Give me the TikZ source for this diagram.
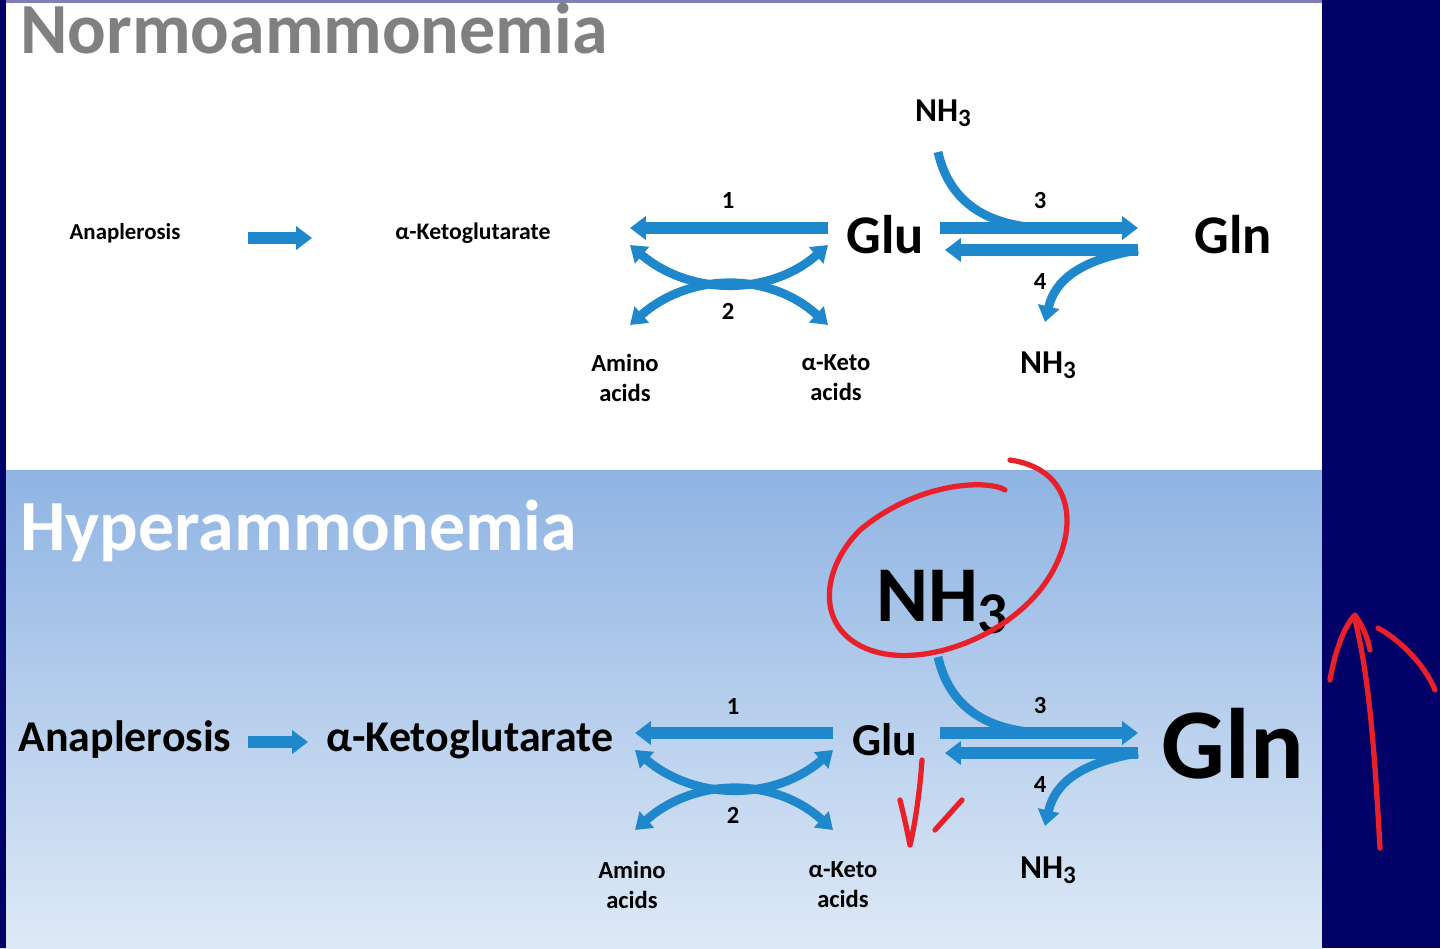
\documentclass[tikz,border=0pt]{standalone}
\usepackage{fontspec}
\setmainfont{Carlito}
\usetikzlibrary{arrows.meta}
\definecolor{arr}{HTML}{1F88CC}
\definecolor{navy}{HTML}{000066}
\definecolor{anred}{HTML}{E8202A}
\newcommand{\nhthree}{NH\raisebox{-0.3ex}{\scalebox{0.75}{3}}}
\begin{document}
\begin{tikzpicture}[x=0.02cm,y=-0.02cm,
  ar/.style={arr,line width=6.5pt,-{Triangle[length=9pt,width=13pt]}},
  cv/.style={arr,line width=5pt,-{Triangle[length=9pt,width=12pt]}},
  dv/.style={arr,line width=5pt,{Triangle[length=9pt,width=12pt]}-{Triangle[length=9pt,width=12pt]}},
  ln/.style={arr,line width=5pt},
  t/.style={font=\bfseries,inner sep=0pt,align=center},
  rd/.style={anred,line width=3pt,line cap=round,line join=round}]
\useasboundingbox (0,0) rectangle (1440,948);
\fill[white] (0,0) rectangle (1322,470);
\shade[top color={rgb,255:red,143;green,180;blue,227},bottom color={rgb,255:red,222;green,233;blue,246}] (0,470) rectangle (1322,948);
\fill[navy] (1322,0) rectangle (1440,948);
\fill[navy] (0,0) rectangle (6,948);
\fill[navy!50] (6,0) rectangle (1322,3);
\node[t,anchor=west,text=gray,font=\bfseries\fontsize{41}{44}\selectfont] (normo) at (20,28) {Normoammonemia};
\node[t,anchor=west,text=white,font=\bfseries\fontsize{41}{44}\selectfont] (hyper) at (20,531) {Hyperammonemia};
% top
\node[t,font=\bfseries\fontsize{13}{15}\selectfont] (ana1) at (125,233) {Anaplerosis};
\node[t,font=\bfseries\fontsize{13.5}{15}\selectfont] (akg1) at (473,233) {α-Ketoglutarate};
\draw[ar] (248,238) -- (312,238);
\node[t,font=\bfseries\fontsize{31}{34}\selectfont] (glu1) at (885,235) {Glu};
\node[t,font=\bfseries\fontsize{31}{34}\selectfont] (gln1) at (1233,235) {Gln};
\node[t,font=\bfseries\fontsize{19}{22}\selectfont] (nhA1) at (943,113) {\nhthree};
\node[t,font=\bfseries\fontsize{19}{22}\selectfont] (nhB1) at (1048,365) {\nhthree};
\node[t,font=\bfseries\fontsize{14}{17}\selectfont] (am1) at (625,378) {Amino\\acids};
\node[t,font=\bfseries\fontsize{14}{17}\selectfont] (ak1) at (836,378) {α-Keto\\acids};
\node[t,font=\bfseries\fontsize{14}{16}\selectfont] at (728,201) {1};
\node[t,font=\bfseries\fontsize{14}{16}\selectfont] at (728,311) {2};
\node[t,font=\bfseries\fontsize{14}{16}\selectfont] at (1040,201) {3};
\node[t,font=\bfseries\fontsize{14}{16}\selectfont] at (1040,282) {4};
\draw[ar] (828,228) -- (630,228);
\draw[dv] (630,245) .. controls (690,296) and (770,296) .. (828,245);
\draw[dv] (630,325) .. controls (690,272) and (770,272) .. (828,325);
\draw[ar] (940,228) -- (1138,228);
\draw[ln] (938,152) .. controls (950,205) and (990,225) .. (1040,228);
\draw[ar] (1138,250) -- (945,250);
\draw[cv] (1138,250) .. controls (1080,260) and (1055,280) .. (1045,322);
% bottom
\node[t,font=\bfseries\fontsize{25}{28}\selectfont] (ana2) at (125,740) {Anaplerosis};
\node[t,font=\bfseries\fontsize{25}{28}\selectfont] (akg2) at (470,740) {α-Ketoglutarate};
\draw[ar] (248,742) -- (308,742);
\node[t,font=\bfseries\fontsize{26}{28}\selectfont] (glu2) at (885,740) {Glu};
\node[t,font=\bfseries\fontsize{57}{60}\selectfont] (gln2) at (1233,744) {Gln};
\node[t,font=\bfseries\fontsize{45}{50}\selectfont] (nhA2) at (942,602) {\nhthree};
\node[t,font=\bfseries\fontsize{19}{22}\selectfont] (nhB2) at (1048,870) {\nhthree};
\node[t,font=\bfseries\fontsize{14}{17}\selectfont] (am2) at (632,885) {Amino\\acids};
\node[t,font=\bfseries\fontsize{14}{17}\selectfont] (ak2) at (843,885) {α-Keto\\acids};
\node[t,font=\bfseries\fontsize{14}{16}\selectfont] at (733,706) {1};
\node[t,font=\bfseries\fontsize{14}{16}\selectfont] at (733,815) {2};
\node[t,font=\bfseries\fontsize{14}{16}\selectfont] at (1040,706) {3};
\node[t,font=\bfseries\fontsize{14}{16}\selectfont] at (1040,785) {4};
\draw[ar] (833,733) -- (635,733);
\draw[dv] (635,750) .. controls (695,801) and (775,801) .. (833,750);
\draw[dv] (635,830) .. controls (695,777) and (775,777) .. (833,830);
\draw[ar] (940,733) -- (1138,733);
\draw[ln] (938,657) .. controls (950,710) and (990,730) .. (1040,733);
\draw[ar] (1138,753) -- (945,753);
\draw[cv] (1138,753) .. controls (1080,763) and (1055,783) .. (1045,826);
% red annotations
\draw[rd] (1005,490) .. controls (990,480) and (920,480) .. (860,530) .. controls (820,570) and (815,630) .. (870,650) .. controls (920,668) and (1000,640) .. (1040,590) .. controls (1080,540) and (1080,470) .. (1010,460);
\draw[rd] (900,800) .. controls (905,820) and (908,835) .. (910,845) .. controls (915,825) and (920,790) .. (922,760);
\draw[rd] (935,830) -- (962,800);
\draw[rd] (1380,848) .. controls (1375,760) and (1370,680) .. (1355,620);
\draw[rd] (1330,680) .. controls (1335,650) and (1345,625) .. (1355,615) .. controls (1365,630) and (1368,640) .. (1370,650);
\draw[rd] (1378,628) .. controls (1400,640) and (1425,665) .. (1435,690);
\end{tikzpicture}
\end{document}
